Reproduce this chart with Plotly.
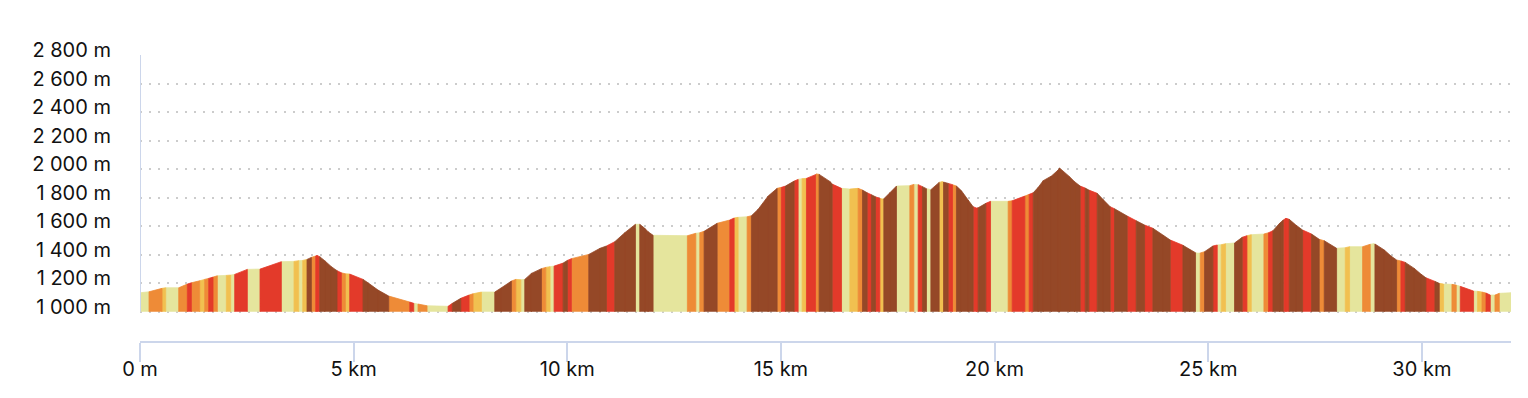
import plotly.graph_objects as go

# ---- data ----
dist_km = [
    0.00, 0.211, 0.515, 0.601, 0.906, 1.108, 1.202, 1.397, 1.514, 1.608,
    1.709, 1.810, 2.021, 2.122, 2.216, 2.512, 2.809, 3.308, 3.605, 3.714,
    3.808, 3.909, 4.011, 4.112, 4.143, 4.206, 4.323, 4.479, 4.611, 4.713,
    4.806, 4.908, 5.220, 5.337, 5.571, 5.821, 6.313, 6.407, 6.507, 6.718,
    7.210, 7.311, 7.507, 7.701, 7.795, 7.990, 8.303, 8.458, 8.692, 8.795,
    8.912, 9.005, 9.161, 9.395, 9.497, 9.597, 9.691, 9.902, 10.003, 10.096,
    10.503, 10.768, 10.916, 11.111, 11.345, 11.595, 11.696, 11.813, 11.891, 12.008,
    12.811, 13.008, 13.101, 13.202, 13.507, 13.803, 13.905, 13.998, 14.209, 14.310,
    14.466, 14.700, 14.911, 15.012, 15.106, 15.309, 15.403, 15.496, 15.597, 15.808,
    15.831, 15.894, 16.152, 16.199, 16.418, 16.613, 16.807, 16.909, 17.018, 17.119,
    17.213, 17.315, 17.369, 17.408, 17.549, 17.704, 18.017, 18.111, 18.212, 18.312,
    18.406, 18.509, 18.703, 18.774, 18.805, 18.914, 19.015, 19.108, 19.225, 19.382,
    19.499, 19.577, 19.616, 19.796, 19.905, 20.318, 20.412, 20.709, 20.810, 20.904,
    21.021, 21.138, 21.332, 21.489, 21.520, 21.754, 21.871, 22.004, 22.121, 22.207,
    22.402, 22.535, 22.706, 22.807, 23.104, 23.315, 23.510, 23.705, 23.940, 24.111,
    24.408, 24.564, 24.703, 24.759, 24.813, 24.914, 25.110, 25.211, 25.304, 25.406,
    25.616, 25.796, 25.906, 26.007, 26.304, 26.412, 26.515, 26.670, 26.756, 26.819,
    26.896, 27.052, 27.208, 27.418, 27.598, 27.715, 28.004, 28.207, 28.308, 28.613,
    28.792, 28.870, 28.902, 29.120, 29.277, 29.408, 29.510, 29.611, 29.822, 29.978,
    30.095, 30.306, 30.407, 30.508, 30.704, 30.805, 30.899, 31.210, 31.304, 31.407,
    31.501, 31.601, 31.711, 31.812, 32.086,
]

elev_m = [
    1133, 1140, 1164, 1168, 1168, 1194, 1203, 1217, 1227, 1234,
    1243, 1252, 1255, 1257, 1262, 1297, 1299, 1351, 1353, 1358,
    1360, 1367, 1381, 1391, 1395, 1386, 1358, 1316, 1288, 1273,
    1266, 1264, 1227, 1203, 1152, 1110, 1068, 1059, 1054, 1042,
    1038, 1059, 1094, 1117, 1126, 1138, 1138, 1168, 1215, 1227,
    1224, 1227, 1269, 1302, 1311, 1316, 1320, 1341, 1360, 1372,
    1402, 1445, 1461, 1491, 1554, 1613, 1613, 1585, 1561, 1536,
    1533, 1550, 1554, 1564, 1620, 1643, 1657, 1662, 1666, 1673,
    1718, 1811, 1865, 1872, 1881, 1916, 1928, 1933, 1935, 1961,
    1966, 1963, 1912, 1895, 1865, 1860, 1865, 1853, 1834, 1820,
    1806, 1795, 1790, 1792, 1834, 1881, 1884, 1893, 1891, 1877,
    1863, 1856, 1907, 1912, 1909, 1900, 1891, 1881, 1848, 1783,
    1736, 1727, 1729, 1760, 1774, 1774, 1778, 1811, 1823, 1834,
    1872, 1919, 1952, 1994, 2008, 1947, 1912, 1881, 1867, 1853,
    1830, 1788, 1736, 1722, 1671, 1638, 1608, 1585, 1538, 1503,
    1466, 1438, 1414, 1410, 1412, 1421, 1461, 1468, 1470, 1477,
    1482, 1522, 1533, 1540, 1545, 1554, 1568, 1620, 1643, 1655,
    1648, 1608, 1573, 1545, 1508, 1498, 1445, 1449, 1456, 1456,
    1473, 1477, 1475, 1433, 1391, 1363, 1356, 1346, 1304, 1264,
    1238, 1213, 1199, 1194, 1192, 1187, 1178, 1145, 1143, 1138,
    1131, 1117, 1117, 1129, 1133,
]

# slope class of each segment (between point i and i+1)
# P = flat, Y = gentle, O = moderate, R = steep, B = very steep
slope_class = list(
    "POYPOROYOR" "OPYPRPRPYP" "YBORRBBBRO" "YRBBBORPOP" "RBROYPBBOY"
    "PBBOYPRBRO" "BBRBBPBBBP" "OPOBORYPOB" "BBORBRPYRO" "OBBRPYOBRB"
    "RYYBBPOPRB" "PBYYBROBBB" "RRBRPORORB" "BBBBBBBRBR" "BBRBRBRBBR"
    "BBPPOBRPYP" "BRYPORBBRR" "BBRBOBPYPO" "PPBBBORBBB" "RBYPOPRPYO"
    "RPOP"
)

class_colors = {
    "P": "#e5e59d",
    "Y": "#f1c050",
    "O": "#ee8b37",
    "R": "#e33a2a",
    "B": "#954827",
}

y_ticks = [1000, 1200, 1400, 1600, 1800, 2000, 2200, 2400, 2600, 2800]
y_tick_text = ["1 000 m", "1 200 m", "1 400 m", "1 600 m", "1 800 m",
               "2 000 m", "2 200 m", "2 400 m", "2 600 m", "2 800 m"]
x_ticks = [0, 5, 10, 15, 20, 25, 30]
x_tick_text = ["0 m", "5 km", "10 km", "15 km", "20 km", "25 km", "30 km"]

BASE = 1000
assert len(dist_km) == len(elev_m) == len(slope_class) + 1

fig = go.Figure()
for code, color in class_colors.items():
    xs, ys = [], []
    for i, c in enumerate(slope_class):
        if c != code:
            continue
        xs += [dist_km[i], dist_km[i], dist_km[i + 1], dist_km[i + 1], None]
        ys += [BASE, elev_m[i], elev_m[i + 1], BASE, None]
    fig.add_trace(go.Scatter(
        x=xs, y=ys, mode="lines", fill="toself", fillcolor=color,
        line=dict(color=color, width=0.8), hoverinfo="skip", showlegend=False,
    ))

axis_col = "#ccd6eb"
font = dict(family="Inter, Lato, sans-serif", size=20, color="#111111")

fig.add_shape(type="line", xref="x", yref="y", x0=0, x1=0, y0=y_ticks[0], y1=y_ticks[-1],
              line=dict(color=axis_col, width=2), layer="above")

fig.update_layout(
    width=1520, height=390,
    margin=dict(l=132, r=17, t=47, b=57, autoexpand=False),
    plot_bgcolor="white", paper_bgcolor="white",
    font=font,
    xaxis=dict(
        range=[0, dist_km[-1]], tickvals=x_ticks, ticktext=x_tick_text,
        showgrid=False, zeroline=False, showline=True, linecolor=axis_col, linewidth=2,
        ticks="outside", ticklen=19, tickwidth=2, tickcolor=axis_col,
        ticklabelstandoff=-10, tickfont=font,
    ),
    yaxis=dict(
        range=[795, 2800], tickvals=y_ticks, ticktext=y_tick_text,
        showgrid=True, gridcolor="#cccccc", gridwidth=1.5, griddash="2px,7px",
        zeroline=False, showline=False, ticks="",
        ticklabelstandoff=28, ticklabelshift=-5, tickfont=font,
    ),
)

fig.write_html("out.html")
